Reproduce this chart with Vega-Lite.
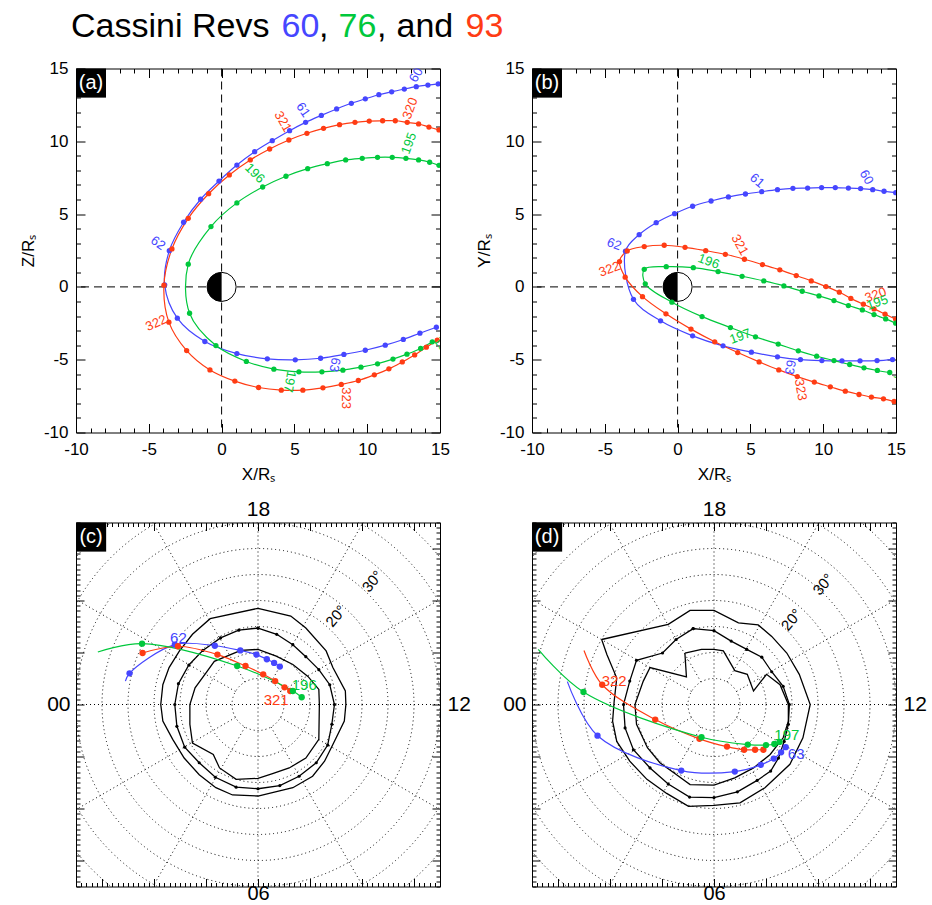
{
"$schema": "https://vega.github.io/schema/vega-lite/v6.json",
"autosize": {"type": "none"},
"padding": {"left": 76, "top": 8, "right": 856, "bottom": 897},
"background": "white",
"config": {
  "font": "Liberation Sans",
  "view": {"stroke": "black", "strokeWidth": 1},
  "legend": {"disable": true},
  "axis": {"grid": false, "domain": false, "tickColor": "black", "labelColor": "black", "titleColor": "black", "titleFontWeight": "normal", "labelFlush": false, "labelOverlap": false, "labelBound": false}
},
"datasets": {
  "title": [
    {"t": "Cassini Revs", "c": "k", "pos": -5},
    {"t": "60", "c": "60", "pos": 205.5},
    {"t": ",", "c": "k", "pos": 243},
    {"t": "76", "c": "76", "pos": 262.5},
    {"t": ",", "c": "k", "pos": 301},
    {"t": "and", "c": "k", "pos": 320.5},
    {"t": "93", "c": "93", "pos": 389.5}
  ],
  "tracks": [
    {"p":"a","rev":"60","i":1,"x":14.88,"y":13.94},{"p":"a","rev":"60","i":2,"x":14.17,"y":13.86},{"p":"a","rev":"60","i":3,"x":13.37,"y":13.75},{"p":"a","rev":"60","i":4,"x":12.55,"y":13.59},{"p":"a","rev":"60","i":5,"x":11.68,"y":13.40},{"p":"a","rev":"60","i":6,"x":10.80,"y":13.20},{"p":"a","rev":"60","i":7,"x":9.87,"y":12.92},{"p":"a","rev":"60","i":8,"x":8.91,"y":12.61},{"p":"a","rev":"60","i":9,"x":7.90,"y":12.22},{"p":"a","rev":"60","i":10,"x":6.85,"y":11.78},{"p":"a","rev":"60","i":11,"x":5.77,"y":11.30},{"p":"a","rev":"60","i":12,"x":4.67,"y":10.73},{"p":"a","rev":"60","i":13,"x":3.48,"y":10.04},{"p":"a","rev":"60","i":14,"x":2.27,"y":9.29},{"p":"a","rev":"60","i":15,"x":1.05,"y":8.37},{"p":"a","rev":"60","i":16,"x":-0.18,"y":7.27},{"p":"a","rev":"60","i":17,"x":-1.44,"y":6.02},{"p":"a","rev":"60","i":18,"x":-2.61,"y":4.44},{"p":"a","rev":"60","i":19,"x":-3.59,"y":2.49},{"p":"a","rev":"60","i":20,"x":-3.91,"y":0.14},{"p":"a","rev":"60","i":21,"x":-3.04,"y":-2.15},{"p":"a","rev":"60","i":22,"x":-1.15,"y":-3.75},{"p":"a","rev":"60","i":23,"x":1.05,"y":-4.58},{"p":"a","rev":"60","i":24,"x":3.14,"y":-4.94},{"p":"a","rev":"60","i":25,"x":5.06,"y":-5.01},{"p":"a","rev":"60","i":26,"x":6.80,"y":-4.90},{"p":"a","rev":"60","i":27,"x":8.40,"y":-4.64},{"p":"a","rev":"60","i":28,"x":9.87,"y":-4.35},{"p":"a","rev":"60","i":29,"x":11.24,"y":-4.00},{"p":"a","rev":"60","i":30,"x":12.48,"y":-3.61},{"p":"a","rev":"60","i":31,"x":13.62,"y":-3.18},{"p":"a","rev":"60","i":32,"x":14.75,"y":-2.77},
    {"p":"a","rev":"93","i":1,"x":14.93,"y":10.78},{"p":"a","rev":"93","i":2,"x":14.24,"y":10.98},{"p":"a","rev":"93","i":3,"x":13.53,"y":11.19},{"p":"a","rev":"93","i":4,"x":12.75,"y":11.30},{"p":"a","rev":"93","i":5,"x":11.93,"y":11.41},{"p":"a","rev":"93","i":6,"x":11.06,"y":11.41},{"p":"a","rev":"93","i":7,"x":10.14,"y":11.39},{"p":"a","rev":"93","i":8,"x":9.16,"y":11.30},{"p":"a","rev":"93","i":9,"x":8.10,"y":11.14},{"p":"a","rev":"93","i":10,"x":7.00,"y":10.89},{"p":"a","rev":"93","i":11,"x":5.86,"y":10.55},{"p":"a","rev":"93","i":12,"x":4.62,"y":10.09},{"p":"a","rev":"93","i":13,"x":3.30,"y":9.47},{"p":"a","rev":"93","i":14,"x":1.97,"y":8.72},{"p":"a","rev":"93","i":15,"x":0.53,"y":7.69},{"p":"a","rev":"93","i":16,"x":-0.89,"y":6.40},{"p":"a","rev":"93","i":17,"x":-2.29,"y":4.71},{"p":"a","rev":"93","i":18,"x":-3.41,"y":2.61},{"p":"a","rev":"93","i":19,"x":-3.96,"y":0.12},{"p":"a","rev":"93","i":20,"x":-3.62,"y":-2.42},{"p":"a","rev":"93","i":21,"x":-2.40,"y":-4.37},{"p":"a","rev":"93","i":22,"x":-0.80,"y":-5.70},{"p":"a","rev":"93","i":23,"x":0.91,"y":-6.47},{"p":"a","rev":"93","i":24,"x":2.54,"y":-6.91},{"p":"a","rev":"93","i":25,"x":4.10,"y":-7.09},{"p":"a","rev":"93","i":26,"x":5.58,"y":-7.09},{"p":"a","rev":"93","i":27,"x":6.96,"y":-6.93},{"p":"a","rev":"93","i":28,"x":8.22,"y":-6.70},{"p":"a","rev":"93","i":29,"x":9.39,"y":-6.43},{"p":"a","rev":"93","i":30,"x":10.49,"y":-6.04},{"p":"a","rev":"93","i":31,"x":11.49,"y":-5.63},{"p":"a","rev":"93","i":32,"x":12.41,"y":-5.15},{"p":"a","rev":"93","i":33,"x":13.26,"y":-4.67},{"p":"a","rev":"93","i":34,"x":14.06,"y":-4.14},{"p":"a","rev":"93","i":35,"x":14.81,"y":-3.66},
    {"p":"a","rev":"76","i":1,"x":14.93,"y":8.35},{"p":"a","rev":"76","i":2,"x":14.29,"y":8.56},{"p":"a","rev":"76","i":3,"x":13.53,"y":8.72},{"p":"a","rev":"76","i":4,"x":12.66,"y":8.83},{"p":"a","rev":"76","i":5,"x":11.72,"y":8.90},{"p":"a","rev":"76","i":6,"x":10.71,"y":8.90},{"p":"a","rev":"76","i":7,"x":9.66,"y":8.83},{"p":"a","rev":"76","i":8,"x":8.52,"y":8.72},{"p":"a","rev":"76","i":9,"x":7.26,"y":8.46},{"p":"a","rev":"76","i":10,"x":5.91,"y":8.12},{"p":"a","rev":"76","i":11,"x":4.42,"y":7.60},{"p":"a","rev":"76","i":12,"x":2.82,"y":6.86},{"p":"a","rev":"76","i":13,"x":1.05,"y":5.77},{"p":"a","rev":"76","i":14,"x":-0.73,"y":4.14},{"p":"a","rev":"76","i":15,"x":-2.29,"y":1.56},{"p":"a","rev":"76","i":16,"x":-2.20,"y":-1.81},{"p":"a","rev":"76","i":17,"x":-0.39,"y":-4.03},{"p":"a","rev":"76","i":18,"x":1.70,"y":-5.12},{"p":"a","rev":"76","i":19,"x":3.59,"y":-5.65},{"p":"a","rev":"76","i":20,"x":5.31,"y":-5.83},{"p":"a","rev":"76","i":21,"x":6.89,"y":-5.83},{"p":"a","rev":"76","i":22,"x":8.33,"y":-5.72},{"p":"a","rev":"76","i":23,"x":9.57,"y":-5.51},{"p":"a","rev":"76","i":24,"x":10.71,"y":-5.28},{"p":"a","rev":"76","i":25,"x":11.77,"y":-4.96},{"p":"a","rev":"76","i":26,"x":12.73,"y":-4.62},{"p":"a","rev":"76","i":27,"x":13.67,"y":-4.23},{"p":"a","rev":"76","i":28,"x":14.47,"y":-3.77},
    {"p":"b","rev":"60","i":1,"x":14.98,"y":6.47},{"p":"b","rev":"60","i":2,"x":14.18,"y":6.57},{"p":"b","rev":"60","i":3,"x":13.40,"y":6.68},{"p":"b","rev":"60","i":4,"x":12.57,"y":6.75},{"p":"b","rev":"60","i":5,"x":11.73,"y":6.79},{"p":"b","rev":"60","i":6,"x":10.83,"y":6.82},{"p":"b","rev":"60","i":7,"x":9.89,"y":6.82},{"p":"b","rev":"60","i":8,"x":8.93,"y":6.79},{"p":"b","rev":"60","i":9,"x":7.92,"y":6.77},{"p":"b","rev":"60","i":10,"x":6.86,"y":6.68},{"p":"b","rev":"60","i":11,"x":5.78,"y":6.54},{"p":"b","rev":"60","i":12,"x":4.66,"y":6.38},{"p":"b","rev":"60","i":13,"x":3.49,"y":6.18},{"p":"b","rev":"60","i":14,"x":2.30,"y":5.90},{"p":"b","rev":"60","i":15,"x":1.03,"y":5.54},{"p":"b","rev":"60","i":16,"x":-0.21,"y":5.03},{"p":"b","rev":"60","i":17,"x":-1.47,"y":4.41},{"p":"b","rev":"60","i":18,"x":-2.64,"y":3.59},{"p":"b","rev":"60","i":19,"x":-3.58,"y":2.45},{"p":"b","rev":"60","i":20,"x":-3.03,"y":-0.85},{"p":"b","rev":"60","i":21,"x":-1.17,"y":-2.33},{"p":"b","rev":"60","i":22,"x":1.03,"y":-3.36},{"p":"b","rev":"60","i":23,"x":3.12,"y":-4.05},{"p":"b","rev":"60","i":24,"x":5.07,"y":-4.48},{"p":"b","rev":"60","i":25,"x":6.86,"y":-4.80},{"p":"b","rev":"60","i":26,"x":8.44,"y":-4.99},{"p":"b","rev":"60","i":27,"x":9.91,"y":-5.06},{"p":"b","rev":"60","i":28,"x":11.29,"y":-5.08},{"p":"b","rev":"60","i":29,"x":12.53,"y":-5.08},{"p":"b","rev":"60","i":30,"x":13.70,"y":-5.06},{"p":"b","rev":"60","i":31,"x":14.76,"y":-4.99},
    {"p":"b","rev":"93","i":1,"x":14.98,"y":-2.22},{"p":"b","rev":"93","i":2,"x":14.25,"y":-1.87},{"p":"b","rev":"93","i":3,"x":13.49,"y":-1.51},{"p":"b","rev":"93","i":4,"x":12.76,"y":-1.19},{"p":"b","rev":"93","i":5,"x":11.90,"y":-0.79},{"p":"b","rev":"93","i":6,"x":11.11,"y":-0.36},{"p":"b","rev":"93","i":7,"x":10.19,"y":0.02},{"p":"b","rev":"93","i":8,"x":9.18,"y":0.41},{"p":"b","rev":"93","i":9,"x":8.15,"y":0.78},{"p":"b","rev":"93","i":10,"x":7.02,"y":1.17},{"p":"b","rev":"93","i":11,"x":5.83,"y":1.53},{"p":"b","rev":"93","i":12,"x":4.59,"y":1.90},{"p":"b","rev":"93","i":13,"x":3.28,"y":2.24},{"p":"b","rev":"93","i":14,"x":1.93,"y":2.49},{"p":"b","rev":"93","i":15,"x":0.51,"y":2.72},{"p":"b","rev":"93","i":16,"x":-0.92,"y":2.86},{"p":"b","rev":"93","i":17,"x":-2.29,"y":2.77},{"p":"b","rev":"93","i":18,"x":-3.46,"y":2.47},{"p":"b","rev":"93","i":19,"x":-3.99,"y":1.74},{"p":"b","rev":"93","i":20,"x":-3.60,"y":0.67},{"p":"b","rev":"93","i":21,"x":-2.41,"y":-0.67},{"p":"b","rev":"93","i":22,"x":-0.80,"y":-1.85},{"p":"b","rev":"93","i":23,"x":0.92,"y":-2.90},{"p":"b","rev":"93","i":24,"x":2.55,"y":-3.77},{"p":"b","rev":"93","i":25,"x":4.13,"y":-4.51},{"p":"b","rev":"93","i":26,"x":5.60,"y":-5.15},{"p":"b","rev":"93","i":27,"x":6.95,"y":-5.70},{"p":"b","rev":"93","i":28,"x":8.22,"y":-6.16},{"p":"b","rev":"93","i":29,"x":9.39,"y":-6.54},{"p":"b","rev":"93","i":30,"x":10.49,"y":-6.86},{"p":"b","rev":"93","i":31,"x":11.52,"y":-7.16},{"p":"b","rev":"93","i":32,"x":12.46,"y":-7.39},{"p":"b","rev":"93","i":33,"x":13.31,"y":-7.57},{"p":"b","rev":"93","i":34,"x":14.14,"y":-7.69},{"p":"b","rev":"93","i":35,"x":14.87,"y":-7.87},
    {"p":"b","rev":"76","i":1,"x":14.98,"y":-2.49},{"p":"b","rev":"76","i":2,"x":14.29,"y":-2.20},{"p":"b","rev":"76","i":3,"x":13.49,"y":-1.90},{"p":"b","rev":"76","i":4,"x":12.69,"y":-1.58},{"p":"b","rev":"76","i":5,"x":11.73,"y":-1.28},{"p":"b","rev":"76","i":6,"x":10.74,"y":-0.94},{"p":"b","rev":"76","i":7,"x":9.71,"y":-0.62},{"p":"b","rev":"76","i":8,"x":8.56,"y":-0.30},{"p":"b","rev":"76","i":9,"x":7.30,"y":0.07},{"p":"b","rev":"76","i":10,"x":5.92,"y":0.41},{"p":"b","rev":"76","i":11,"x":4.43,"y":0.73},{"p":"b","rev":"76","i":12,"x":2.78,"y":1.05},{"p":"b","rev":"76","i":13,"x":1.08,"y":1.32},{"p":"b","rev":"76","i":14,"x":-0.78,"y":1.39},{"p":"b","rev":"76","i":15,"x":-2.29,"y":1.21},{"p":"b","rev":"76","i":16,"x":-2.22,"y":0.21},{"p":"b","rev":"76","i":17,"x":-0.39,"y":-1.05},{"p":"b","rev":"76","i":18,"x":1.68,"y":-2.04},{"p":"b","rev":"76","i":19,"x":3.63,"y":-2.79},{"p":"b","rev":"76","i":20,"x":5.35,"y":-3.43},{"p":"b","rev":"76","i":21,"x":6.91,"y":-3.93},{"p":"b","rev":"76","i":22,"x":8.29,"y":-4.39},{"p":"b","rev":"76","i":23,"x":9.55,"y":-4.76},{"p":"b","rev":"76","i":24,"x":10.74,"y":-5.06},{"p":"b","rev":"76","i":25,"x":11.82,"y":-5.33},{"p":"b","rev":"76","i":26,"x":12.80,"y":-5.56},{"p":"b","rev":"76","i":27,"x":13.72,"y":-5.74},{"p":"b","rev":"76","i":28,"x":14.57,"y":-5.88},
    {"p":"c","rev":"60","i":1,"x":-25.5,"y":4.5,"s":0},{"p":"c","rev":"60","i":2,"x":-24.7,"y":6.0},{"p":"c","rev":"60","i":3,"x":-16.0,"y":11.5},{"p":"c","rev":"60","i":4,"x":-8.3,"y":11.3},{"p":"c","rev":"60","i":5,"x":-3.4,"y":10.4},{"p":"c","rev":"60","i":6,"x":-0.3,"y":9.6},{"p":"c","rev":"60","i":7,"x":1.7,"y":8.7},{"p":"c","rev":"60","i":8,"x":3.1,"y":8.0},{"p":"c","rev":"60","i":9,"x":4.2,"y":7.3},
    {"p":"c","rev":"93","i":1,"x":-22.2,"y":9.9},{"p":"c","rev":"93","i":2,"x":-15.4,"y":11.2},{"p":"c","rev":"93","i":3,"x":-7.8,"y":9.6},{"p":"c","rev":"93","i":4,"x":-2.4,"y":7.4},{"p":"c","rev":"93","i":5,"x":1.0,"y":5.8},{"p":"c","rev":"93","i":6,"x":3.3,"y":4.5},{"p":"c","rev":"93","i":7,"x":5.1,"y":3.3},{"p":"c","rev":"93","i":8,"x":6.2,"y":2.6},
    {"p":"c","rev":"76","i":1,"x":-30.8,"y":10.1,"s":0},{"p":"c","rev":"76","i":2,"x":-22.3,"y":11.7},{"p":"c","rev":"76","i":3,"x":-4.0,"y":7.4},{"p":"c","rev":"76","i":4,"x":6.7,"y":2.6},{"p":"c","rev":"76","i":5,"x":8.4,"y":1.4},
    {"p":"d","rev":"60","i":1,"x":-28.2,"y":4.4,"s":0},{"p":"d","rev":"60","i":2,"x":-22.4,"y":-6.0},{"p":"d","rev":"60","i":3,"x":-6.3,"y":-12.7},{"p":"d","rev":"60","i":4,"x":4.0,"y":-12.9},{"p":"d","rev":"60","i":5,"x":9.0,"y":-11.6},{"p":"d","rev":"60","i":6,"x":11.5,"y":-10.4},{"p":"d","rev":"60","i":7,"x":12.9,"y":-9.2},{"p":"d","rev":"60","i":8,"x":13.8,"y":-8.2},
    {"p":"d","rev":"93","i":1,"x":-25.0,"y":10.4,"s":0},{"p":"d","rev":"93","i":2,"x":-21.5,"y":3.8},{"p":"d","rev":"93","i":3,"x":-11.3,"y":-2.9},{"p":"d","rev":"93","i":4,"x":-2.8,"y":-6.6},{"p":"d","rev":"93","i":5,"x":2.5,"y":-8.1},{"p":"d","rev":"93","i":6,"x":5.8,"y":-8.7},{"p":"d","rev":"93","i":7,"x":7.9,"y":-8.7},{"p":"d","rev":"93","i":8,"x":9.5,"y":-8.7},
    {"p":"d","rev":"76","i":1,"x":-33.8,"y":10.6,"s":0},{"p":"d","rev":"76","i":2,"x":-25.1,"y":2.4},{"p":"d","rev":"76","i":3,"x":-2.4,"y":-6.3},{"p":"d","rev":"76","i":4,"x":6.5,"y":-7.7},{"p":"d","rev":"76","i":5,"x":10.0,"y":-7.8},{"p":"d","rev":"76","i":6,"x":11.6,"y":-7.6},{"p":"d","rev":"76","i":7,"x":12.6,"y":-7.2}
  ],
  "labels": [
    {"p":"a","rev":"60","t":"60","x":13.37,"y":14.55,"ang":-60},{"p":"a","rev":"60","t":"61","x":5.6,"y":12.15,"ang":55},{"p":"a","rev":"60","t":"62","x":-4.37,"y":3.0,"ang":35},{"p":"a","rev":"60","t":"63","x":7.76,"y":-5.35,"ang":100},
    {"p":"a","rev":"93","t":"320","x":12.96,"y":12.26,"ang":-70},{"p":"a","rev":"93","t":"321","x":4.21,"y":11.35,"ang":60},{"p":"a","rev":"93","t":"322","x":-4.49,"y":-2.49,"ang":-25},{"p":"a","rev":"93","t":"323","x":8.52,"y":-7.64,"ang":90},
    {"p":"a","rev":"76","t":"195","x":12.87,"y":9.86,"ang":-70},{"p":"a","rev":"76","t":"196","x":2.27,"y":7.8,"ang":45},{"p":"a","rev":"76","t":"197","x":4.67,"y":-6.5,"ang":100},{"p":"a","rev":"76","t":"198","x":15.2,"y":-4.1,"ang":50},
    {"p":"b","rev":"60","t":"60","x":12.97,"y":7.53,"ang":60},{"p":"b","rev":"60","t":"61","x":5.46,"y":7.3,"ang":40},{"p":"b","rev":"60","t":"62","x":-4.36,"y":2.93,"ang":20},{"p":"b","rev":"60","t":"63","x":7.71,"y":-5.51,"ang":100},
    {"p":"b","rev":"93","t":"321","x":4.27,"y":2.88,"ang":60},{"p":"b","rev":"93","t":"320","x":13.6,"y":-0.55,"ang":-20},{"p":"b","rev":"93","t":"322","x":-4.68,"y":1.21,"ang":-20},{"p":"b","rev":"93","t":"323","x":8.45,"y":-7.07,"ang":80},
    {"p":"b","rev":"76","t":"196","x":2.13,"y":1.74,"ang":20},{"p":"b","rev":"76","t":"195","x":13.72,"y":-1.08,"ang":-20},{"p":"b","rev":"76","t":"197","x":4.31,"y":-3.41,"ang":-20},{"p":"b","rev":"76","t":"198","x":15.55,"y":-6.16,"ang":20},
    {"p":"c","rev":"60","t":"62","x":-15.3,"y":12.7,"ang":0},{"p":"c","rev":"76","t":"196","x":8.9,"y":3.8,"ang":0},{"p":"c","rev":"93","t":"321","x":3.5,"y":0.8,"ang":0},
    {"p":"d","rev":"60","t":"63","x":15.8,"y":-9.5,"ang":0},{"p":"d","rev":"93","t":"322","x":-19.2,"y":4.6,"ang":0},{"p":"d","rev":"76","t":"197","x":14.0,"y":-5.8,"ang":0}
  ],
  "ovals": [
    {"p":"c","ring":"o","i":1,"x":0,"y":18.5},{"p":"c","ring":"o","i":2,"x":6.3,"y":17.0},{"p":"c","ring":"o","i":3,"x":9.2,"y":14.7},{"p":"c","ring":"o","i":4,"x":13.1,"y":10.3},{"p":"c","ring":"o","i":5,"x":14.4,"y":7.1},{"p":"c","ring":"o","i":6,"x":16.8,"y":2.6},{"p":"c","ring":"o","i":7,"x":16.9,"y":0},{"p":"c","ring":"o","i":8,"x":16.6,"y":-3.2},{"p":"c","ring":"o","i":9,"x":14.4,"y":-7.7},{"p":"c","ring":"o","i":10,"x":12.8,"y":-10.9},{"p":"c","ring":"o","i":11,"x":10.5,"y":-13.8},{"p":"c","ring":"o","i":12,"x":6.7,"y":-16.0},{"p":"c","ring":"o","i":13,"x":0,"y":-17.6},{"p":"c","ring":"o","i":14,"x":-4.9,"y":-17.4},{"p":"c","ring":"o","i":15,"x":-8.1,"y":-16.0},{"p":"c","ring":"o","i":16,"x":-11.3,"y":-13.5},{"p":"c","ring":"o","i":17,"x":-14.2,"y":-10.3},{"p":"c","ring":"o","i":18,"x":-16.4,"y":-6.7},{"p":"c","ring":"o","i":19,"x":-18.3,"y":-3.2},{"p":"c","ring":"o","i":20,"x":-18.7,"y":0},{"p":"c","ring":"o","i":21,"x":-18.3,"y":3.8},{"p":"c","ring":"o","i":22,"x":-17.1,"y":7.1},{"p":"c","ring":"o","i":23,"x":-15.1,"y":10.3},{"p":"c","ring":"o","i":24,"x":-12.6,"y":13.5},{"p":"c","ring":"o","i":25,"x":-9.2,"y":16.5},{"p":"c","ring":"o","i":26,"x":0,"y":18.5},
    {"p":"c","ring":"m","i":1,"x":0,"y":14.7},{"p":"c","ring":"m","i":2,"x":3.6,"y":13.5},{"p":"c","ring":"m","i":3,"x":6.7,"y":11.5},{"p":"c","ring":"m","i":4,"x":9.2,"y":9.2},{"p":"c","ring":"m","i":5,"x":11.7,"y":6.7},{"p":"c","ring":"m","i":6,"x":13.8,"y":3.8},{"p":"c","ring":"m","i":7,"x":14.7,"y":0},{"p":"c","ring":"m","i":8,"x":14.2,"y":-3.8},{"p":"c","ring":"m","i":9,"x":13.4,"y":-7.8},{"p":"c","ring":"m","i":10,"x":11.2,"y":-11.2},{"p":"c","ring":"m","i":11,"x":7.9,"y":-13.8},{"p":"c","ring":"m","i":12,"x":4.2,"y":-15.6},{"p":"c","ring":"m","i":13,"x":0,"y":-16.2},{"p":"c","ring":"m","i":14,"x":-4.2,"y":-15.9},{"p":"c","ring":"m","i":15,"x":-8.2,"y":-14.0},{"p":"c","ring":"m","i":16,"x":-11.3,"y":-11.2},{"p":"c","ring":"m","i":17,"x":-14.1,"y":-8.2},{"p":"c","ring":"m","i":18,"x":-15.6,"y":-4.2},{"p":"c","ring":"m","i":19,"x":-16.0,"y":0},{"p":"c","ring":"m","i":20,"x":-15.3,"y":4.0},{"p":"c","ring":"m","i":21,"x":-13.3,"y":7.6},{"p":"c","ring":"m","i":22,"x":-10.6,"y":10.4},{"p":"c","ring":"m","i":23,"x":-7.2,"y":12.8},{"p":"c","ring":"m","i":24,"x":-3.7,"y":14.3},{"p":"c","ring":"m","i":25,"x":0,"y":14.7},
    {"p":"c","ring":"n","i":1,"x":-3.3,"y":10.4},{"p":"c","ring":"n","i":2,"x":0,"y":10.6},{"p":"c","ring":"n","i":3,"x":3.5,"y":9.3},{"p":"c","ring":"n","i":4,"x":6.7,"y":7.7},{"p":"c","ring":"n","i":5,"x":9.6,"y":5.4},{"p":"c","ring":"n","i":6,"x":11.7,"y":2.9},{"p":"c","ring":"n","i":7,"x":11.8,"y":0},{"p":"c","ring":"n","i":8,"x":11.7,"y":-6.7},{"p":"c","ring":"n","i":9,"x":9.2,"y":-10.3},{"p":"c","ring":"n","i":10,"x":6.0,"y":-12.2},{"p":"c","ring":"n","i":11,"x":2.8,"y":-13.3},{"p":"c","ring":"n","i":12,"x":0,"y":-14.2},{"p":"c","ring":"n","i":13,"x":-4.2,"y":-14.4},{"p":"c","ring":"n","i":14,"x":-7.4,"y":-12.2},{"p":"c","ring":"n","i":15,"x":-8.6,"y":-9.6},{"p":"c","ring":"n","i":16,"x":-12.6,"y":-7.4},{"p":"c","ring":"n","i":17,"x":-13.1,"y":-3.8},{"p":"c","ring":"n","i":18,"x":-13.1,"y":0},{"p":"c","ring":"n","i":19,"x":-12.1,"y":3.2},{"p":"c","ring":"n","i":20,"x":-10.0,"y":6.1},{"p":"c","ring":"n","i":21,"x":-8.4,"y":8.3},{"p":"c","ring":"n","i":22,"x":-3.3,"y":10.4},
    {"p":"d","ring":"o","i":1,"x":-21.6,"y":12.5},{"p":"d","ring":"o","i":2,"x":-8.8,"y":15.4},{"p":"d","ring":"o","i":3,"x":-4.6,"y":18.1},{"p":"d","ring":"o","i":4,"x":0,"y":18.1},{"p":"d","ring":"o","i":5,"x":4.7,"y":15.7},{"p":"d","ring":"o","i":6,"x":8.5,"y":15.3},{"p":"d","ring":"o","i":7,"x":11.1,"y":13.1},{"p":"d","ring":"o","i":8,"x":14.0,"y":9.9},{"p":"d","ring":"o","i":9,"x":16.4,"y":5.8},{"p":"d","ring":"o","i":10,"x":18.5,"y":0},{"p":"d","ring":"o","i":11,"x":17.1,"y":-6.4},{"p":"d","ring":"o","i":12,"x":14.6,"y":-11.5},{"p":"d","ring":"o","i":13,"x":9.8,"y":-16.0},{"p":"d","ring":"o","i":14,"x":5.0,"y":-18.9},{"p":"d","ring":"o","i":15,"x":0,"y":-19.4},{"p":"d","ring":"o","i":16,"x":-4.9,"y":-19.6},{"p":"d","ring":"o","i":17,"x":-9.1,"y":-17.1},{"p":"d","ring":"o","i":18,"x":-12.9,"y":-14.4},{"p":"d","ring":"o","i":19,"x":-16.2,"y":-10.9},{"p":"d","ring":"o","i":20,"x":-18.7,"y":-7.1},{"p":"d","ring":"o","i":21,"x":-19.5,"y":-3.2},{"p":"d","ring":"o","i":22,"x":-19.2,"y":0.6},{"p":"d","ring":"o","i":23,"x":-18.7,"y":5.1},{"p":"d","ring":"o","i":24,"x":-20.6,"y":9.6},{"p":"d","ring":"o","i":25,"x":-21.6,"y":12.5},
    {"p":"d","ring":"m","i":1,"x":-4.0,"y":14.6},{"p":"d","ring":"m","i":2,"x":0,"y":14.2},{"p":"d","ring":"m","i":3,"x":3.3,"y":12.2},{"p":"d","ring":"m","i":4,"x":6.3,"y":10.6},{"p":"d","ring":"m","i":5,"x":9.2,"y":9.1},{"p":"d","ring":"m","i":6,"x":11.1,"y":6.3},{"p":"d","ring":"m","i":7,"x":13.3,"y":3.5},{"p":"d","ring":"m","i":8,"x":14.5,"y":0},{"p":"d","ring":"m","i":9,"x":14.3,"y":-3.8},{"p":"d","ring":"m","i":10,"x":13.5,"y":-7.1},{"p":"d","ring":"m","i":11,"x":12.4,"y":-10.3},{"p":"d","ring":"m","i":12,"x":10.9,"y":-12.8},{"p":"d","ring":"m","i":13,"x":8.3,"y":-14.6},{"p":"d","ring":"m","i":14,"x":4.5,"y":-16.8},{"p":"d","ring":"m","i":15,"x":0,"y":-17.9},{"p":"d","ring":"m","i":16,"x":-4.7,"y":-17.8},{"p":"d","ring":"m","i":17,"x":-8.8,"y":-15.3},{"p":"d","ring":"m","i":18,"x":-12.3,"y":-12.2},{"p":"d","ring":"m","i":19,"x":-15.5,"y":-8.7},{"p":"d","ring":"m","i":20,"x":-17.1,"y":-4.5},{"p":"d","ring":"m","i":21,"x":-17.4,"y":0},{"p":"d","ring":"m","i":22,"x":-16.2,"y":4.5},{"p":"d","ring":"m","i":23,"x":-14.9,"y":8.5},{"p":"d","ring":"m","i":24,"x":-9.9,"y":9.9},{"p":"d","ring":"m","i":25,"x":-7.3,"y":12.5},{"p":"d","ring":"m","i":26,"x":-4.0,"y":14.6},
    {"p":"d","ring":"n","i":1,"x":-5.6,"y":9.9},{"p":"d","ring":"n","i":2,"x":-5.3,"y":5.3},{"p":"d","ring":"n","i":3,"x":-12.3,"y":7.1},{"p":"d","ring":"n","i":4,"x":-13.6,"y":4.5},{"p":"d","ring":"n","i":5,"x":-15.2,"y":0},{"p":"d","ring":"n","i":6,"x":-14.9,"y":-3.8},{"p":"d","ring":"n","i":7,"x":-12.8,"y":-8.3},{"p":"d","ring":"n","i":8,"x":-10.4,"y":-11.2},{"p":"d","ring":"n","i":9,"x":-7.2,"y":-13.5},{"p":"d","ring":"n","i":10,"x":-4.6,"y":-15.4},{"p":"d","ring":"n","i":11,"x":0,"y":-15.5},{"p":"d","ring":"n","i":12,"x":4.0,"y":-14.1},{"p":"d","ring":"n","i":13,"x":7.6,"y":-12.2},{"p":"d","ring":"n","i":14,"x":10.8,"y":-9.6},{"p":"d","ring":"n","i":15,"x":13.3,"y":-6.4},{"p":"d","ring":"n","i":16,"x":14.3,"y":-3.2},{"p":"d","ring":"n","i":17,"x":14.3,"y":0},{"p":"d","ring":"n","i":18,"x":12.7,"y":3.8},{"p":"d","ring":"n","i":19,"x":10.1,"y":5.8},{"p":"d","ring":"n","i":20,"x":7.6,"y":2.6},{"p":"d","ring":"n","i":21,"x":6.4,"y":5.8},{"p":"d","ring":"n","i":22,"x":4.0,"y":6.5},{"p":"d","ring":"n","i":23,"x":1.8,"y":10.3},{"p":"d","ring":"n","i":24,"x":0,"y":10.6},{"p":"d","ring":"n","i":25,"x":-2.4,"y":10.6},{"p":"d","ring":"n","i":26,"x":-5.6,"y":9.9}
  ],
  "rings": [{"r":5},{"r":10},{"r":15},{"r":20},{"r":25},{"r":30},{"r":35},{"r":40},{"r":45}],
  "spokes": [
    {"x":-50,"y":0,"x2":50,"y2":0},{"x":0,"y":-50,"x2":0,"y2":50},
    {"x":4.33,"y":2.5,"x2":43.3,"y2":25},{"x":2.5,"y":4.33,"x2":25,"y2":43.3},
    {"x":-2.5,"y":4.33,"x2":-25,"y2":43.3},{"x":-4.33,"y":2.5,"x2":-43.3,"y2":25},
    {"x":-4.33,"y":-2.5,"x2":-43.3,"y2":-25},{"x":-2.5,"y":-4.33,"x2":-25,"y2":-43.3},
    {"x":2.5,"y":-4.33,"x2":25,"y2":-43.3},{"x":4.33,"y":-2.5,"x2":43.3,"y2":-25}
  ],
  "deg": [
    {"p":"c","t":"20°","x":15.0,"y":17.0},{"p":"c","t":"30°","x":22.0,"y":23.7},
    {"p":"d","t":"20°","x":14.9,"y":16.3},{"p":"d","t":"30°","x":21.0,"y":23.1}
  ]
},
"vconcat": [
  {
    "width": 800, "height": 29,
    "view": {"stroke": null},
    "data": {"name": "title"},
    "mark": {"type": "text", "align": "left", "baseline": "alphabetic", "fontSize": 34},
    "encoding": {
      "x": {"field": "pos", "type": "quantitative", "scale": {"domain": [0, 800]}, "axis": null},
      "y": {"datum": 0, "type": "quantitative", "scale": {"domain": [0, 1]}, "axis": null},
      "text": {"field": "t"},
      "color": {"field": "c", "type": "nominal", "scale": {"domain": ["k","60","76","93"], "range": ["#000000","#4646FF","#00C83C","#FF3C14"]}, "legend": null}
    }
  },
  {
    "bounds": "flush",
    "columns": 2,
    "spacing": {"row": 90, "column": 92},
    "concat": [
          {
            "width": 364, "height": 364,
            "resolve": {"axis": {"x": "independent", "y": "independent"}},
            "layer": [
              {"data": {"values": [{}]}, "mark": {"type": "rule", "strokeDash": [8,5], "color": "black", "strokeWidth": 1},
               "encoding": {"x": {"datum": 0, "type": "quantitative", "scale": {"domain": [-10,15], "nice": false, "zero": false},
                 "axis": {"orient": "bottom", "values": [-10,-9,-8,-7,-6,-5,-4,-3,-2,-1,0,1,2,3,4,5,6,7,8,9,10,11,12,13,14,15], "tickSize": {"condition": {"test": "datum.value % 5 === 0", "value": -9}, "value": -4.5}, "labelExpr": "datum.value % 5 === 0 ? '' + datum.value : ''", "labelFontSize": 17, "labelPadding": 18, "title": "X/Rₛ", "titleFontSize": 17, "titlePadding": 4}}}},
              {"data": {"values": [{}]}, "mark": {"type": "rule", "strokeDash": [8,5], "color": "black", "strokeWidth": 1},
               "encoding": {"y": {"datum": 0, "type": "quantitative", "scale": {"domain": [-10,15], "nice": false, "zero": false},
                 "axis": {"orient": "left", "values": [-10,-9,-8,-7,-6,-5,-4,-3,-2,-1,0,1,2,3,4,5,6,7,8,9,10,11,12,13,14,15], "tickSize": {"condition": {"test": "datum.value % 5 === 0", "value": -9}, "value": -4.5}, "labelExpr": "datum.value % 5 === 0 ? '' + datum.value : ''", "labelFontSize": 17, "labelPadding": 17, "title": "Z/Rₛ", "titleFontSize": 17, "titlePadding": 6}}}},
              {"data": {"values": [{}]}, "mark": {"type": "point", "opacity": 0},
               "encoding": {"x": {"datum": 0, "type": "quantitative", "axis": {"orient": "top", "values": [-10,-9,-8,-7,-6,-5,-4,-3,-2,-1,0,1,2,3,4,5,6,7,8,9,10,11,12,13,14,15], "tickSize": {"condition": {"test": "datum.value % 5 === 0", "value": -9}, "value": -4.5}, "labels": false, "title": null}},
                            "y": {"datum": 0, "type": "quantitative", "axis": {"orient": "right", "values": [-10,-9,-8,-7,-6,-5,-4,-3,-2,-1,0,1,2,3,4,5,6,7,8,9,10,11,12,13,14,15], "tickSize": {"condition": {"test": "datum.value % 5 === 0", "value": -9}, "value": -4.5}, "labels": false, "title": null}}}},
              {"data": {"values": [{}]}, "mark": {"type": "point", "shape": "circle", "filled": true, "fill": "white", "stroke": "black", "strokeWidth": 1, "size": 847, "opacity": 1},
               "encoding": {"x": {"datum": 0, "type": "quantitative", "axis": null}, "y": {"datum": 0, "type": "quantitative", "axis": null}}},
              {"data": {"values": [{}]}, "mark": {"type": "point", "shape": "M0,-1A1,1 0 0,0 0,1Z", "filled": true, "fill": "black", "strokeWidth": 0, "size": 847, "opacity": 1},
               "encoding": {"x": {"datum": 0, "type": "quantitative", "axis": null}, "y": {"datum": 0, "type": "quantitative", "axis": null}}},
              {"data": {"name": "tracks"}, "transform": [{"filter": "datum.p === 'a'"}],
               "mark": {"type": "line", "interpolate": "catmull-rom", "strokeWidth": 1.2, "clip": true},
               "encoding": {"x": {"field": "x", "type": "quantitative", "axis": null}, "y": {"field": "y", "type": "quantitative", "axis": null}, "order": {"field": "i"},
                 "color": {"field": "rev", "type": "nominal", "scale": {"domain": ["k","60","76","93"], "range": ["#000000","#4646FF","#00C83C","#FF3C14"]}, "legend": null}}},
              {"data": {"name": "tracks"}, "transform": [{"filter": "datum.p === 'a'"}],
               "mark": {"type": "circle", "size": 28, "opacity": 1, "clip": true},
               "encoding": {"x": {"field": "x", "type": "quantitative", "axis": null}, "y": {"field": "y", "type": "quantitative", "axis": null},
                 "color": {"field": "rev", "type": "nominal", "legend": null}}},
              {"data": {"name": "labels"}, "transform": [{"filter": "datum.p === 'a'"}],
               "mark": {"type": "text", "fontSize": 13, "clip": true},
               "encoding": {"x": {"field": "x", "type": "quantitative", "axis": null}, "y": {"field": "y", "type": "quantitative", "axis": null}, "text": {"field": "t"},
                 "angle": {"field": "ang", "type": "quantitative", "scale": null},
                 "color": {"field": "rev", "type": "nominal", "legend": null}}},
              {"data": {"values": [{}]}, "mark": {"type": "rect", "color": "black", "opacity": 1},
               "encoding": {"x": {"datum": -10, "type": "quantitative", "axis": null}, "x2": {"datum": -7.94}, "y": {"datum": 15, "type": "quantitative", "axis": null}, "y2": {"datum": 13.0}}},
              {"data": {"values": [{}]}, "mark": {"type": "text", "color": "white", "fontSize": 20, "baseline": "middle", "align": "center", "text": "(a)"},
               "encoding": {"x": {"datum": -8.97, "type": "quantitative", "axis": null}, "y": {"datum": 13.97, "type": "quantitative", "axis": null}}}
            ]
          },
          {
            "width": 364, "height": 364,
            "resolve": {"axis": {"x": "independent", "y": "independent"}},
            "layer": [
              {"data": {"values": [{}]}, "mark": {"type": "rule", "strokeDash": [8,5], "color": "black", "strokeWidth": 1},
               "encoding": {"x": {"datum": 0, "type": "quantitative", "scale": {"domain": [-10,15], "nice": false, "zero": false},
                 "axis": {"orient": "bottom", "values": [-10,-9,-8,-7,-6,-5,-4,-3,-2,-1,0,1,2,3,4,5,6,7,8,9,10,11,12,13,14,15], "tickSize": {"condition": {"test": "datum.value % 5 === 0", "value": -9}, "value": -4.5}, "labelExpr": "datum.value % 5 === 0 ? '' + datum.value : ''", "labelFontSize": 17, "labelPadding": 18, "title": "X/Rₛ", "titleFontSize": 17, "titlePadding": 4}}}},
              {"data": {"values": [{}]}, "mark": {"type": "rule", "strokeDash": [8,5], "color": "black", "strokeWidth": 1},
               "encoding": {"y": {"datum": 0, "type": "quantitative", "scale": {"domain": [-10,15], "nice": false, "zero": false},
                 "axis": {"orient": "left", "values": [-10,-9,-8,-7,-6,-5,-4,-3,-2,-1,0,1,2,3,4,5,6,7,8,9,10,11,12,13,14,15], "tickSize": {"condition": {"test": "datum.value % 5 === 0", "value": -9}, "value": -4.5}, "labelExpr": "datum.value % 5 === 0 ? '' + datum.value : ''", "labelFontSize": 17, "labelPadding": 17, "title": "Y/Rₛ", "titleFontSize": 17, "titlePadding": 6}}}},
              {"data": {"values": [{}]}, "mark": {"type": "point", "opacity": 0},
               "encoding": {"x": {"datum": 0, "type": "quantitative", "axis": {"orient": "top", "values": [-10,-9,-8,-7,-6,-5,-4,-3,-2,-1,0,1,2,3,4,5,6,7,8,9,10,11,12,13,14,15], "tickSize": {"condition": {"test": "datum.value % 5 === 0", "value": -9}, "value": -4.5}, "labels": false, "title": null}},
                            "y": {"datum": 0, "type": "quantitative", "axis": {"orient": "right", "values": [-10,-9,-8,-7,-6,-5,-4,-3,-2,-1,0,1,2,3,4,5,6,7,8,9,10,11,12,13,14,15], "tickSize": {"condition": {"test": "datum.value % 5 === 0", "value": -9}, "value": -4.5}, "labels": false, "title": null}}}},
              {"data": {"values": [{}]}, "mark": {"type": "point", "shape": "circle", "filled": true, "fill": "white", "stroke": "black", "strokeWidth": 1, "size": 847, "opacity": 1},
               "encoding": {"x": {"datum": 0, "type": "quantitative", "axis": null}, "y": {"datum": 0, "type": "quantitative", "axis": null}}},
              {"data": {"values": [{}]}, "mark": {"type": "point", "shape": "M0,-1A1,1 0 0,0 0,1Z", "filled": true, "fill": "black", "strokeWidth": 0, "size": 847, "opacity": 1},
               "encoding": {"x": {"datum": 0, "type": "quantitative", "axis": null}, "y": {"datum": 0, "type": "quantitative", "axis": null}}},
              {"data": {"name": "tracks"}, "transform": [{"filter": "datum.p === 'b'"}],
               "mark": {"type": "line", "interpolate": "catmull-rom", "strokeWidth": 1.2, "clip": true},
               "encoding": {"x": {"field": "x", "type": "quantitative", "axis": null}, "y": {"field": "y", "type": "quantitative", "axis": null}, "order": {"field": "i"},
                 "color": {"field": "rev", "type": "nominal", "legend": null}}},
              {"data": {"name": "tracks"}, "transform": [{"filter": "datum.p === 'b'"}],
               "mark": {"type": "circle", "size": 28, "opacity": 1, "clip": true},
               "encoding": {"x": {"field": "x", "type": "quantitative", "axis": null}, "y": {"field": "y", "type": "quantitative", "axis": null},
                 "color": {"field": "rev", "type": "nominal", "legend": null}}},
              {"data": {"name": "labels"}, "transform": [{"filter": "datum.p === 'b'"}],
               "mark": {"type": "text", "fontSize": 13, "clip": true},
               "encoding": {"x": {"field": "x", "type": "quantitative", "axis": null}, "y": {"field": "y", "type": "quantitative", "axis": null}, "text": {"field": "t"},
                 "angle": {"field": "ang", "type": "quantitative", "scale": null},
                 "color": {"field": "rev", "type": "nominal", "legend": null}}},
              {"data": {"values": [{}]}, "mark": {"type": "rect", "color": "black", "opacity": 1},
               "encoding": {"x": {"datum": -10, "type": "quantitative", "axis": null}, "x2": {"datum": -7.94}, "y": {"datum": 15, "type": "quantitative", "axis": null}, "y2": {"datum": 13.0}}},
              {"data": {"values": [{}]}, "mark": {"type": "text", "color": "white", "fontSize": 20, "baseline": "middle", "align": "center", "text": "(b)"},
               "encoding": {"x": {"datum": -8.97, "type": "quantitative", "axis": null}, "y": {"datum": 13.97, "type": "quantitative", "axis": null}}}
            ]
          },
          {
            "width": 364, "height": 364,
            "resolve": {"axis": {"x": "independent", "y": "independent"}},
            "layer": [
              {"data": {"name": "spokes"}, "mark": {"type": "rule", "strokeDash": [1,3], "color": "black", "strokeWidth": 1, "clip": true},
               "encoding": {
                 "x": {"field": "x", "type": "quantitative", "scale": {"domain": [-35,35], "nice": false, "zero": false},
                   "axis": {"orient": "bottom", "values": [-35,-34,-33,-32,-31,-30,-29,-28,-27,-26,-25,-24,-23,-22,-21,-20,-19,-18,-17,-16,-15,-14,-13,-12,-11,-10,-9,-8,-7,-6,-5,-4,-3,-2,-1,0,1,2,3,4,5,6,7,8,9,10,11,12,13,14,15,16,17,18,19,20,21,22,23,24,25,26,27,28,29,30,31,32,33,34,35], "tickSize": {"condition": {"test": "datum.value % 10 === 0", "value": -8}, "value": -4}, "labelExpr": "datum.value === 0 ? '06' : ''", "labelFontSize": 20, "labelPadding": 5, "title": null}},
                 "y": {"field": "y", "type": "quantitative", "scale": {"domain": [-35,35], "nice": false, "zero": false},
                   "axis": {"orient": "left", "values": [-35,-34,-33,-32,-31,-30,-29,-28,-27,-26,-25,-24,-23,-22,-21,-20,-19,-18,-17,-16,-15,-14,-13,-12,-11,-10,-9,-8,-7,-6,-5,-4,-3,-2,-1,0,1,2,3,4,5,6,7,8,9,10,11,12,13,14,15,16,17,18,19,20,21,22,23,24,25,26,27,28,29,30,31,32,33,34,35], "tickSize": {"condition": {"test": "datum.value % 10 === 0", "value": -8}, "value": -4}, "labelExpr": "datum.value === 0 ? '00' : ''", "labelFontSize": 21, "labelPadding": 14, "title": null}},
                 "x2": {"field": "x2"}, "y2": {"field": "y2"}}},
              {"data": {"values": [{}]}, "mark": {"type": "point", "opacity": 0},
               "encoding": {
                 "x": {"datum": 0, "type": "quantitative", "axis": {"orient": "top", "values": [-35,-34,-33,-32,-31,-30,-29,-28,-27,-26,-25,-24,-23,-22,-21,-20,-19,-18,-17,-16,-15,-14,-13,-12,-11,-10,-9,-8,-7,-6,-5,-4,-3,-2,-1,0,1,2,3,4,5,6,7,8,9,10,11,12,13,14,15,16,17,18,19,20,21,22,23,24,25,26,27,28,29,30,31,32,33,34,35], "tickSize": {"condition": {"test": "datum.value % 10 === 0", "value": -8}, "value": -4}, "labelExpr": "datum.value === 0 ? '18' : ''", "labelFontSize": 21, "labelPadding": 11, "title": null}},
                 "y": {"datum": 0, "type": "quantitative", "axis": {"orient": "right", "values": [-35,-34,-33,-32,-31,-30,-29,-28,-27,-26,-25,-24,-23,-22,-21,-20,-19,-18,-17,-16,-15,-14,-13,-12,-11,-10,-9,-8,-7,-6,-5,-4,-3,-2,-1,0,1,2,3,4,5,6,7,8,9,10,11,12,13,14,15,16,17,18,19,20,21,22,23,24,25,26,27,28,29,30,31,32,33,34,35], "tickSize": {"condition": {"test": "datum.value % 10 === 0", "value": -8}, "value": -4}, "labelExpr": "datum.value === 0 ? '12' : ''", "labelFontSize": 21, "labelPadding": 15, "title": null}}}},
              {"data": {"name": "rings"}, "mark": {"type": "point", "shape": "circle", "filled": false, "color": "black", "strokeDash": [1,3], "strokeWidth": 1, "opacity": 1, "clip": true},
               "encoding": {"x": {"datum": 0, "type": "quantitative", "axis": null}, "y": {"datum": 0, "type": "quantitative", "axis": null},
                 "size": {"field": "r", "type": "quantitative", "scale": {"type": "pow", "exponent": 2, "domain": [0,50], "range": [0,270400]}, "legend": null}}},
              {"data": {"name": "deg"}, "transform": [{"filter": "datum.p === 'c'"}],
               "mark": {"type": "text", "fontSize": 15, "angle": -50, "color": "black"},
               "encoding": {"x": {"field": "x", "type": "quantitative", "axis": null}, "y": {"field": "y", "type": "quantitative", "axis": null}, "text": {"field": "t"}}},
              {"data": {"name": "ovals"}, "transform": [{"filter": "datum.p === 'c'"}],
               "mark": {"type": "line", "color": "black", "strokeWidth": 1.3, "clip": true},
               "encoding": {"x": {"field": "x", "type": "quantitative", "axis": null}, "y": {"field": "y", "type": "quantitative", "axis": null}, "detail": {"field": "ring"}, "order": {"field": "i"}}},
              {"data": {"name": "ovals"}, "transform": [{"filter": "datum.p === 'c' && datum.ring === 'm'"}],
               "mark": {"type": "circle", "color": "black", "size": 10, "opacity": 1},
               "encoding": {"x": {"field": "x", "type": "quantitative", "axis": null}, "y": {"field": "y", "type": "quantitative", "axis": null}}},
              {"data": {"name": "tracks"}, "transform": [{"filter": "datum.p === 'c'"}],
               "mark": {"type": "line", "interpolate": "catmull-rom", "strokeWidth": 1.2, "clip": true},
               "encoding": {"x": {"field": "x", "type": "quantitative", "axis": null}, "y": {"field": "y", "type": "quantitative", "axis": null}, "order": {"field": "i"},
                 "color": {"field": "rev", "type": "nominal", "legend": null}}},
              {"data": {"name": "tracks"}, "transform": [{"filter": "datum.p === 'c' && datum.s !== 0"}],
               "mark": {"type": "circle", "size": 40, "opacity": 1, "clip": true},
               "encoding": {"x": {"field": "x", "type": "quantitative", "axis": null}, "y": {"field": "y", "type": "quantitative", "axis": null},
                 "color": {"field": "rev", "type": "nominal", "legend": null}}},
              {"data": {"name": "labels"}, "transform": [{"filter": "datum.p === 'c'"}],
               "mark": {"type": "text", "fontSize": 15, "clip": true},
               "encoding": {"x": {"field": "x", "type": "quantitative", "axis": null}, "y": {"field": "y", "type": "quantitative", "axis": null}, "text": {"field": "t"},
                 "color": {"field": "rev", "type": "nominal", "legend": null}}},
              {"data": {"values": [{}]}, "mark": {"type": "rect", "color": "black", "opacity": 1},
               "encoding": {"x": {"datum": -35, "type": "quantitative", "axis": null}, "x2": {"datum": -29.2}, "y": {"datum": 35, "type": "quantitative", "axis": null}, "y2": {"datum": 29.4}}},
              {"data": {"values": [{}]}, "mark": {"type": "text", "color": "white", "fontSize": 20, "baseline": "middle", "align": "center", "text": "(c)"},
               "encoding": {"x": {"datum": -32.1, "type": "quantitative", "axis": null}, "y": {"datum": 32.2, "type": "quantitative", "axis": null}}}
            ]
          },
          {
            "width": 364, "height": 364,
            "resolve": {"axis": {"x": "independent", "y": "independent"}},
            "layer": [
              {"data": {"name": "spokes"}, "mark": {"type": "rule", "strokeDash": [1,3], "color": "black", "strokeWidth": 1, "clip": true},
               "encoding": {
                 "x": {"field": "x", "type": "quantitative", "scale": {"domain": [-35,35], "nice": false, "zero": false},
                   "axis": {"orient": "bottom", "values": [-35,-34,-33,-32,-31,-30,-29,-28,-27,-26,-25,-24,-23,-22,-21,-20,-19,-18,-17,-16,-15,-14,-13,-12,-11,-10,-9,-8,-7,-6,-5,-4,-3,-2,-1,0,1,2,3,4,5,6,7,8,9,10,11,12,13,14,15,16,17,18,19,20,21,22,23,24,25,26,27,28,29,30,31,32,33,34,35], "tickSize": {"condition": {"test": "datum.value % 10 === 0", "value": -8}, "value": -4}, "labelExpr": "datum.value === 0 ? '06' : ''", "labelFontSize": 20, "labelPadding": 5, "title": null}},
                 "y": {"field": "y", "type": "quantitative", "scale": {"domain": [-35,35], "nice": false, "zero": false},
                   "axis": {"orient": "left", "values": [-35,-34,-33,-32,-31,-30,-29,-28,-27,-26,-25,-24,-23,-22,-21,-20,-19,-18,-17,-16,-15,-14,-13,-12,-11,-10,-9,-8,-7,-6,-5,-4,-3,-2,-1,0,1,2,3,4,5,6,7,8,9,10,11,12,13,14,15,16,17,18,19,20,21,22,23,24,25,26,27,28,29,30,31,32,33,34,35], "tickSize": {"condition": {"test": "datum.value % 10 === 0", "value": -8}, "value": -4}, "labelExpr": "datum.value === 0 ? '00' : ''", "labelFontSize": 21, "labelPadding": 14, "title": null}},
                 "x2": {"field": "x2"}, "y2": {"field": "y2"}}},
              {"data": {"values": [{}]}, "mark": {"type": "point", "opacity": 0},
               "encoding": {
                 "x": {"datum": 0, "type": "quantitative", "axis": {"orient": "top", "values": [-35,-34,-33,-32,-31,-30,-29,-28,-27,-26,-25,-24,-23,-22,-21,-20,-19,-18,-17,-16,-15,-14,-13,-12,-11,-10,-9,-8,-7,-6,-5,-4,-3,-2,-1,0,1,2,3,4,5,6,7,8,9,10,11,12,13,14,15,16,17,18,19,20,21,22,23,24,25,26,27,28,29,30,31,32,33,34,35], "tickSize": {"condition": {"test": "datum.value % 10 === 0", "value": -8}, "value": -4}, "labelExpr": "datum.value === 0 ? '18' : ''", "labelFontSize": 21, "labelPadding": 11, "title": null}},
                 "y": {"datum": 0, "type": "quantitative", "axis": {"orient": "right", "values": [-35,-34,-33,-32,-31,-30,-29,-28,-27,-26,-25,-24,-23,-22,-21,-20,-19,-18,-17,-16,-15,-14,-13,-12,-11,-10,-9,-8,-7,-6,-5,-4,-3,-2,-1,0,1,2,3,4,5,6,7,8,9,10,11,12,13,14,15,16,17,18,19,20,21,22,23,24,25,26,27,28,29,30,31,32,33,34,35], "tickSize": {"condition": {"test": "datum.value % 10 === 0", "value": -8}, "value": -4}, "labelExpr": "datum.value === 0 ? '12' : ''", "labelFontSize": 21, "labelPadding": 15, "title": null}}}},
              {"data": {"name": "rings"}, "mark": {"type": "point", "shape": "circle", "filled": false, "color": "black", "strokeDash": [1,3], "strokeWidth": 1, "opacity": 1, "clip": true},
               "encoding": {"x": {"datum": 0, "type": "quantitative", "axis": null}, "y": {"datum": 0, "type": "quantitative", "axis": null},
                 "size": {"field": "r", "type": "quantitative", "scale": {"type": "pow", "exponent": 2, "domain": [0,50], "range": [0,270400]}, "legend": null}}},
              {"data": {"name": "deg"}, "transform": [{"filter": "datum.p === 'd'"}],
               "mark": {"type": "text", "fontSize": 15, "angle": -50, "color": "black"},
               "encoding": {"x": {"field": "x", "type": "quantitative", "axis": null}, "y": {"field": "y", "type": "quantitative", "axis": null}, "text": {"field": "t"}}},
              {"data": {"name": "ovals"}, "transform": [{"filter": "datum.p === 'd'"}],
               "mark": {"type": "line", "color": "black", "strokeWidth": 1.3, "clip": true},
               "encoding": {"x": {"field": "x", "type": "quantitative", "axis": null}, "y": {"field": "y", "type": "quantitative", "axis": null}, "detail": {"field": "ring"}, "order": {"field": "i"}}},
              {"data": {"name": "ovals"}, "transform": [{"filter": "datum.p === 'd' && datum.ring === 'm'"}],
               "mark": {"type": "circle", "color": "black", "size": 10, "opacity": 1},
               "encoding": {"x": {"field": "x", "type": "quantitative", "axis": null}, "y": {"field": "y", "type": "quantitative", "axis": null}}},
              {"data": {"name": "tracks"}, "transform": [{"filter": "datum.p === 'd'"}],
               "mark": {"type": "line", "interpolate": "catmull-rom", "strokeWidth": 1.2, "clip": true},
               "encoding": {"x": {"field": "x", "type": "quantitative", "axis": null}, "y": {"field": "y", "type": "quantitative", "axis": null}, "order": {"field": "i"},
                 "color": {"field": "rev", "type": "nominal", "legend": null}}},
              {"data": {"name": "tracks"}, "transform": [{"filter": "datum.p === 'd' && datum.s !== 0"}],
               "mark": {"type": "circle", "size": 40, "opacity": 1, "clip": true},
               "encoding": {"x": {"field": "x", "type": "quantitative", "axis": null}, "y": {"field": "y", "type": "quantitative", "axis": null},
                 "color": {"field": "rev", "type": "nominal", "legend": null}}},
              {"data": {"name": "labels"}, "transform": [{"filter": "datum.p === 'd'"}],
               "mark": {"type": "text", "fontSize": 15, "clip": true},
               "encoding": {"x": {"field": "x", "type": "quantitative", "axis": null}, "y": {"field": "y", "type": "quantitative", "axis": null}, "text": {"field": "t"},
                 "color": {"field": "rev", "type": "nominal", "legend": null}}},
              {"data": {"values": [{}]}, "mark": {"type": "rect", "color": "black", "opacity": 1},
               "encoding": {"x": {"datum": -35, "type": "quantitative", "axis": null}, "x2": {"datum": -29.2}, "y": {"datum": 35, "type": "quantitative", "axis": null}, "y2": {"datum": 29.4}}},
              {"data": {"values": [{}]}, "mark": {"type": "text", "color": "white", "fontSize": 20, "baseline": "middle", "align": "center", "text": "(d)"},
               "encoding": {"x": {"datum": -32.1, "type": "quantitative", "axis": null}, "y": {"datum": 32.2, "type": "quantitative", "axis": null}}}
            ]
          }
    ]
  }
],
"spacing": 31.5,
"bounds": "flush"
}
